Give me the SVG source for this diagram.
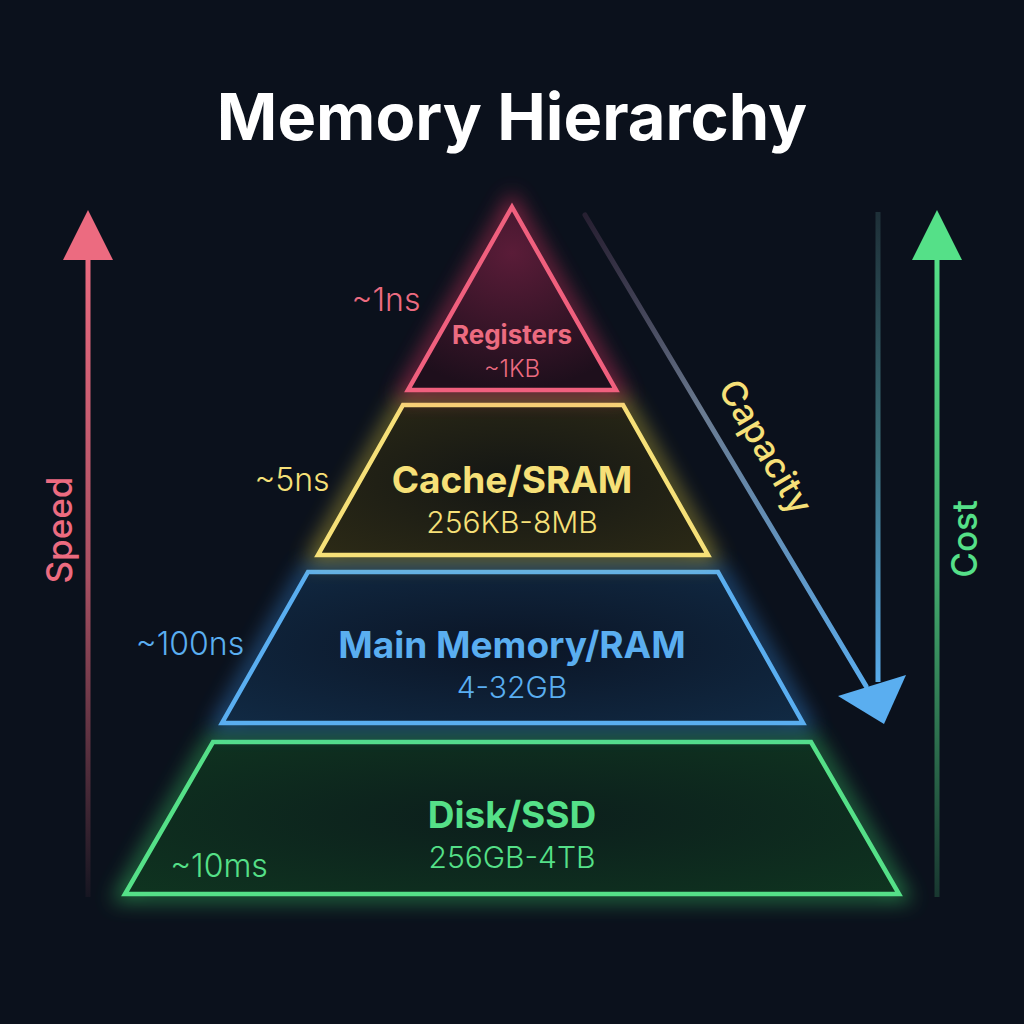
<svg xmlns="http://www.w3.org/2000/svg" width="1024" height="1024" viewBox="0 0 1024 1024">
<defs>
<style>
text{font-family:Inter,"Noto Sans","Liberation Sans",sans-serif;text-anchor:middle}
.title{font-size:65px;font-weight:700;fill:#ffffff}
.name{font-weight:700}
.sub{font-weight:300}
.lat{font-size:32px;font-weight:300}
.axis{font-size:35px;font-weight:500}
.pk{fill:#ec6b80}.yl{fill:#f6e078}.bl{fill:#5aaef0}.gr{fill:#55e088}
.shape{stroke-width:4.5;stroke-linejoin:miter}
.halo{fill:none;stroke-width:16;opacity:0.45}
</style>
<filter id="glow" x="-30%" y="-30%" width="160%" height="160%">
<feGaussianBlur in="SourceGraphic" stdDeviation="10"/>
</filter>
<linearGradient id="spdG" x1="0" y1="1" x2="0" y2="0">
<stop offset="0" stop-color="#ec6b80" stop-opacity="0.05"/>
<stop offset="0.5" stop-color="#ec6b80" stop-opacity="0.7"/>
<stop offset="1" stop-color="#ec6b80"/>
</linearGradient>
<linearGradient id="costG" x1="0" y1="1" x2="0" y2="0">
<stop offset="0" stop-color="#4fd080" stop-opacity="0.2"/>
<stop offset="0.5" stop-color="#4fd080" stop-opacity="0.8"/>
<stop offset="1" stop-color="#55e088"/>
</linearGradient>
<linearGradient id="capG" x1="585" y1="215" x2="870" y2="700" gradientUnits="userSpaceOnUse">
<stop offset="0" stop-color="#3a2a40" stop-opacity="0.6"/>
<stop offset="0.4" stop-color="#6a7a90"/>
<stop offset="1" stop-color="#5aaef0"/>
</linearGradient>
<linearGradient id="capV" x1="0" y1="215" x2="0" y2="690" gradientUnits="userSpaceOnUse">
<stop offset="0" stop-color="#1e3038"/>
<stop offset="0.5" stop-color="#3a6e78"/>
<stop offset="1" stop-color="#5aaef0"/>
</linearGradient>
<radialGradient id="pkF" cx="0.5" cy="0.25" r="0.75"><stop offset="0" stop-color="#5a1c38"/><stop offset="1" stop-color="#1e0f1c"/></radialGradient>
<radialGradient id="ylF" cx="0.5" cy="0.5" r="0.7"><stop offset="0" stop-color="#141614"/><stop offset="1" stop-color="#2c2a16"/></radialGradient>
<radialGradient id="blF" cx="0.5" cy="0.5" r="0.7"><stop offset="0" stop-color="#0b1526"/><stop offset="1" stop-color="#112a44"/></radialGradient>
<radialGradient id="grF" cx="0.5" cy="0.5" r="0.7"><stop offset="0" stop-color="#0c1e1c"/><stop offset="1" stop-color="#0f3420"/></radialGradient>
</defs>
<rect width="1024" height="1024" fill="#0b111c"/>
<text class="title" x="512" y="140">Memory Hierarchy</text>

<g id="connectors">
<g id="speed-arrow">
<rect x="85.5" y="255" width="5" height="642" fill="url(#spdG)"/>
<polygon points="88,210 63,260 113,260" fill="#ec6b80"/>
<text class="axis pk" transform="translate(72,530) rotate(-90)">Speed</text>
</g>
<g id="cost-arrow">
<rect x="934.5" y="255" width="5" height="642" fill="url(#costG)"/>
<polygon points="937,210 912,260 962,260" fill="#55e088"/>
<text class="axis gr" transform="translate(977,539) rotate(-90)">Cost</text>
</g>
<g id="capacity-arrow">
<line x1="585" y1="215" x2="866" y2="686" stroke="url(#capG)" stroke-width="5" stroke-linecap="round"/>
<rect x="875.5" y="212" width="5" height="470" fill="url(#capV)"/>
<polygon points="838,696 906,675 884,724" fill="#5aaef0"/>
<text class="axis yl" transform="translate(755,453) rotate(59.5)">Capacity</text>
</g>
</g>

<g id="disk">
<polygon class="halo" points="213,742 811,742 899,894 125,894" stroke="#3fe070" filter="url(#glow)"/>
<polygon class="shape" points="213,742 811,742 899,894 125,894" fill="url(#grF)" stroke="#55e088"/>
<text class="name gr" x="512" y="828" font-size="37">Disk/SSD</text>
<text class="sub gr" x="512" y="868" font-size="30">256GB-4TB</text>
<text class="lat gr" x="219" y="877">~10ms</text>
</g>

<g id="ram">
<polygon class="halo" points="308,572 718,572 803,723 222,723" stroke="#3a96f0" filter="url(#glow)"/>
<polygon class="shape" points="308,572 718,572 803,723 222,723" fill="url(#blF)" stroke="#5aaef0"/>
<text class="name bl" x="512" y="658" font-size="37">Main Memory/RAM</text>
<text class="sub bl" x="512" y="698" font-size="30">4-32GB</text>
<text class="lat bl" x="190" y="655">~100ns</text>
</g>

<g id="cache">
<polygon class="halo" points="403,405 623,405 708,555 318,555" stroke="#f0d840" filter="url(#glow)"/>
<polygon class="shape" points="403,405 623,405 708,555 318,555" fill="url(#ylF)" stroke="#f6e078"/>
<text class="name yl" x="512" y="493" font-size="37">Cache/SRAM</text>
<text class="sub yl" x="512" y="533" font-size="30">256KB-8MB</text>
<text class="lat yl" x="292" y="491">~5ns</text>
</g>

<g id="registers">
<polygon class="halo" points="512,207 616,390 408,390" stroke="#ff3a6a" filter="url(#glow)"/>
<polygon class="shape" points="512,207 616,390 408,390" fill="url(#pkF)" stroke="#f0607e"/>
<text class="name pk" x="512" y="344" font-size="26">Registers</text>
<text class="sub pk" x="512" y="377" font-size="24">~1KB</text>
<text class="lat pk" x="386" y="311">~1ns</text>
</g>
</svg>
